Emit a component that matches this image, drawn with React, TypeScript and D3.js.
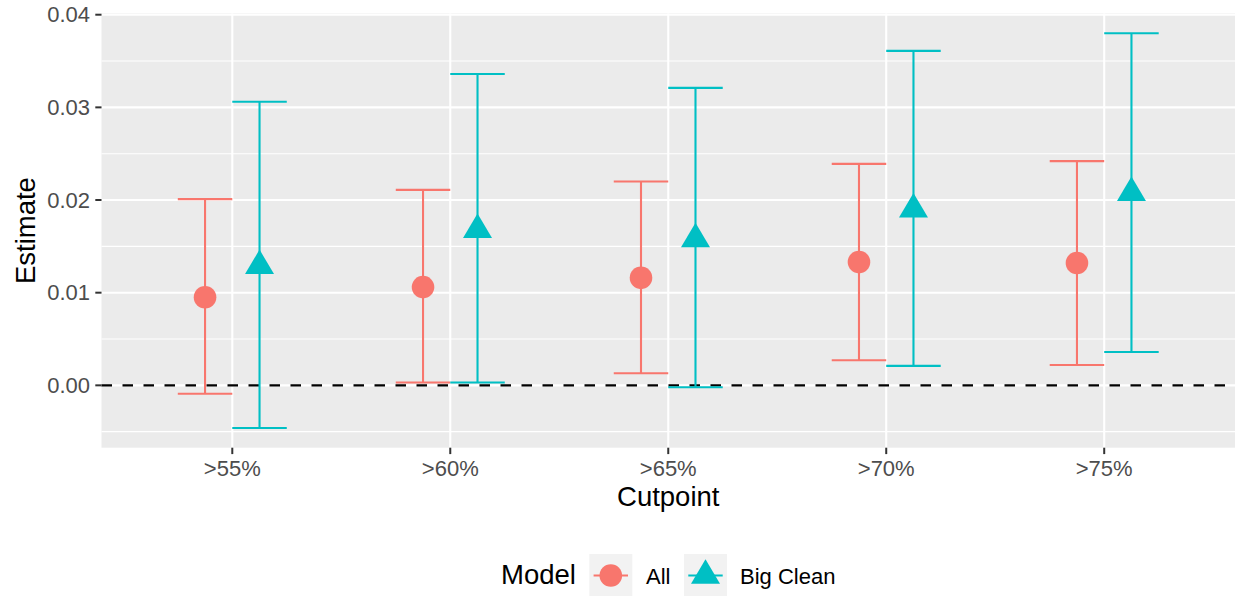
import React from "react";
import * as d3 from "d3";

// Estimates with confidence bounds per cutpoint, for two models
const cutpoints = [">55%", ">60%", ">65%", ">70%", ">75%"];
const allEst = [0.0095, 0.0106, 0.0116, 0.0133, 0.0132];
const allLo = [-0.0009, 0.0003, 0.0013, 0.0027, 0.0022];
const allHi = [0.0201, 0.0211, 0.022, 0.0239, 0.0242];
const bigEst = [0.0129, 0.0168, 0.0158, 0.019, 0.0208];
const bigLo = [-0.0046, 0.0003, -0.0002, 0.0021, 0.0036];
const bigHi = [0.0306, 0.0336, 0.0321, 0.0361, 0.038];
const yTicks = [0, 0.01, 0.02, 0.03, 0.04];
const yMinor = [-0.005, 0.005, 0.015, 0.025, 0.035];
const models = ["All", "Big Clean"];
const colors = ["#F8766D", "#00BFC4"];

const W = 1238;
const H = 596;
const panel = { left: 101.5, right: 1235, top: 13.5, bottom: 447.7 };
const FONT = "'Liberation Sans', Arial, Helvetica, sans-serif";

function triangle(cx: number, cy: number) {
  const up = 16.2;
  const down = 8.3;
  const half = 14.5;
  return `M${cx},${cy - up}L${cx + half},${cy + down}L${cx - half},${cy + down}Z`;
}

export default function App() {
  const lo = d3.min([...allLo, ...bigLo]) as number;
  const hi = d3.max([...allHi, ...bigHi]) as number;
  const pad = (hi - lo) * 0.05;
  const y = d3.scaleLinear().domain([lo - pad, hi + pad]).range([panel.bottom, panel.top]);
  const x = d3.scalePoint<string>().domain(cutpoints).range([panel.left, panel.right]).padding(0.6);
  const step = x.step();
  const dodge = step * 0.125;
  const capHalf = step * 0.125;

  const series = [
    { est: allEst, lo: allLo, hi: allHi, off: -dodge, color: colors[0], shape: "circle" },
    { est: bigEst, lo: bigLo, hi: bigHi, off: dodge, color: colors[1], shape: "triangle" },
  ];

  const pw = panel.right - panel.left;
  const ph = panel.bottom - panel.top;

  return (
    <svg width={W} height={H} style={{ position: "absolute", left: 0, top: 0, background: "#fff" }}>
      {/* panel */}
      <rect x={panel.left} y={panel.top} width={pw} height={ph} fill="#EBEBEB" />
      {yMinor.map((v) => (
        <line key={"mi" + v} x1={panel.left} x2={panel.right} y1={y(v)} y2={y(v)} stroke="#fff" strokeWidth={1.1} />
      ))}
      {yTicks.map((v) => (
        <line key={"ma" + v} x1={panel.left} x2={panel.right} y1={y(v)} y2={y(v)} stroke="#fff" strokeWidth={2.1} />
      ))}
      {cutpoints.map((c) => (
        <line key={"vx" + c} x1={x(c)} x2={x(c)} y1={panel.top} y2={panel.bottom} stroke="#fff" strokeWidth={2.1} />
      ))}

      {/* zero reference */}
      <line
        x1={panel.left}
        x2={panel.right}
        y1={y(0)}
        y2={y(0)}
        stroke="#000"
        strokeWidth={2.2}
        strokeDasharray="10.5 10.5"
      />

      {/* error bars and points */}
      {series.map((s, si) =>
        cutpoints.map((c, i) => {
          const cx = (x(c) as number) + s.off;
          return (
            <g key={si + "-" + c}>
              <line x1={cx} x2={cx} y1={y(s.lo[i])} y2={y(s.hi[i])} stroke={s.color} strokeWidth={2.1} />
              <line x1={cx - capHalf} x2={cx + capHalf} y1={y(s.hi[i])} y2={y(s.hi[i])} stroke={s.color} strokeWidth={2.1} />
              <line x1={cx - capHalf} x2={cx + capHalf} y1={y(s.lo[i])} y2={y(s.lo[i])} stroke={s.color} strokeWidth={2.1} />
              {s.shape === "circle" ? (
                <circle cx={cx} cy={y(s.est[i])} r={11.3} fill={s.color} />
              ) : (
                <path d={triangle(cx, y(s.est[i]))} fill={s.color} />
              )}
            </g>
          );
        })
      )}

      {/* y axis */}
      {yTicks.map((v) => (
        <g key={"yt" + v}>
          <line x1={panel.left - 6.2} x2={panel.left} y1={y(v)} y2={y(v)} stroke="#333" strokeWidth={2} />
          <text
            x={90}
            y={y(v) + 7.7}
            textAnchor="end"
            fontFamily={FONT}
            fontSize={22}
            fill="#4D4D4D"
          >
            {d3.format(".2f")(v)}
          </text>
        </g>
      ))}

      {/* x axis */}
      {cutpoints.map((c) => (
        <g key={"xt" + c}>
          <line x1={x(c)} x2={x(c)} y1={panel.bottom} y2={panel.bottom + 6.4} stroke="#333" strokeWidth={2} />
          <text x={x(c)} y={476} textAnchor="middle" fontFamily={FONT} fontSize={22} fill="#4D4D4D">
            {c}
          </text>
        </g>
      ))}

      {/* axis titles */}
      <text x={(panel.left + panel.right) / 2} y={505.7} textAnchor="middle" fontFamily={FONT} fontSize={27.5} fill="#000">
        Cutpoint
      </text>
      <text
        transform={`translate(35,${(panel.top + panel.bottom) / 2}) rotate(-90)`}
        textAnchor="middle"
        fontFamily={FONT}
        fontSize={27.5}
        fill="#000"
      >
        Estimate
      </text>

      {/* legend */}
      <text x={501} y={584} fontFamily={FONT} fontSize={27.5} fill="#000">
        Model
      </text>
      {models.map((m, i) => {
        const kx = [589.3, 684][i];
        const kw = 43;
        const ky = 554;
        const kcx = kx + kw / 2;
        const kcy = 575.5;
        const tx = [646, 740][i];
        return (
          <g key={"lg" + m}>
            <rect x={kx} y={ky} width={kw} height={kw} fill="#F2F2F2" />
            <line x1={kx + kw * 0.1} x2={kx + kw * 0.9} y1={kcy} y2={kcy} stroke={colors[i]} strokeWidth={2.1} />
            {i === 0 ? (
              <circle cx={kcx} cy={kcy} r={11.3} fill={colors[i]} />
            ) : (
              <path d={triangle(kcx, kcy)} fill={colors[i]} />
            )}
            <text x={tx} y={584} fontFamily={FONT} fontSize={22} fill="#000">
              {m}
            </text>
          </g>
        );
      })}
    </svg>
  );
}
